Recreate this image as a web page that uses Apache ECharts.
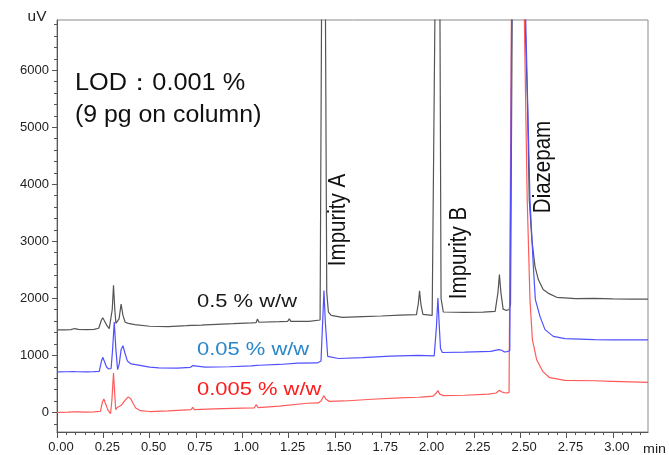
<!DOCTYPE html>
<html>
<head>
<meta charset="utf-8">
<script src="https://cdn.jsdelivr.net/npm/echarts@6/dist/echarts.min.js"></script>
<style>html,body{margin:0;padding:0;background:#fff}#c{width:669px;height:455px}</style>
</head>
<body>
<div id="c"></div>
<script>
// ---- tick labels ----
const xMajorTicks = [0, 0.25, 0.5, 0.75, 1.0, 1.25, 1.5, 1.75, 2.0, 2.25, 2.5, 2.75, 3.0];
const xMinorTicks = [0.05,0.1,0.15,0.2,0.3,0.35,0.4,0.45,0.55,0.6,0.65,0.7,0.8,0.85,0.9,0.95,1.05,1.1,1.15,1.2,1.3,1.35,1.4,1.45,1.55,1.6,1.65,1.7,1.8,1.85,1.9,1.95,2.05,2.1,2.15,2.2,2.3,2.35,2.4,2.45,2.55,2.6,2.65,2.7,2.8,2.85,2.9,2.95,3.05,3.1,3.15];
const yMajorTicks = [0, 1000, 2000, 3000, 4000, 5000, 6000];
const yMinorTicks = [-200,200,400,600,800,1200,1400,1600,1800,2200,2400,2600,2800,3200,3400,3600,3800,4200,4400,4600,4800,5200,5400,5600,5800,6200,6400,6600,6800];

// ---- series: [time (min), signal (uV)] ----
const trace05 = [
[0.000,1446],[0.040,1448],[0.075,1452],[0.095,1470],[0.115,1455],[0.160,1450],[0.200,1455],[0.225,1475],
[0.240,1620],[0.247,1660],[0.255,1610],[0.268,1530],[0.282,1470],[0.290,1500],[0.298,1800],[0.305,2230],
[0.312,1800],[0.318,1560],[0.325,1540],[0.335,1640],[0.346,1900],[0.356,1700],[0.368,1580],[0.385,1560],
[0.420,1540],[0.500,1510],[0.600,1505],[0.700,1520],[0.725,1525],[0.732,1556],[0.740,1525],[0.780,1530],
[0.790,1550],[0.800,1535],[0.950,1555],[1.050,1570],[1.075,1575],[1.082,1639],[1.090,1580],[1.200,1590],
[1.245,1595],[1.254,1639],[1.262,1595],[1.360,1597],[1.420,1620],[1.428,7000],[1.438,9000],[1.449,7000],
[1.456,2100],[1.465,1760],[1.480,1700],[1.540,1665],[1.650,1680],[1.750,1690],[1.850,1705],[1.940,1715],
[1.950,1900],[1.957,2130],[1.964,1900],[1.975,1720],[2.025,1700],[2.034,1720],[2.040,7000],[2.053,9000],
[2.067,7000],[2.073,2000],[2.085,1760],[2.200,1755],[2.300,1758],[2.365,1770],[2.380,2100],[2.388,2416],
[2.396,2100],[2.408,1810],[2.423,1790],[2.440,1800],[2.448,1900],[2.457,7000],[2.490,9000],[2.525,7000],
[2.539,5486],[2.549,3730],[2.563,3030],[2.580,2561],[2.598,2328],[2.624,2153],[2.656,2082],[2.697,2018],
[2.800,1995],[2.900,2000],[3.000,1990],[3.100,1985],[3.190,1985]
];
const trace005 = [
[0.000,709],[0.050,712],[0.090,715],[0.100,725],[0.110,712],[0.160,710],[0.200,715],[0.228,720],
[0.240,900],[0.247,965],[0.255,900],[0.268,790],[0.280,761],[0.286,790],[0.292,770],[0.300,1100],
[0.309,1586],[0.318,1100],[0.327,749],[0.336,850],[0.346,1100],[0.356,1170],[0.366,1050],[0.380,900],
[0.400,850],[0.440,830],[0.500,795],[0.550,780],[0.650,775],[0.720,790],[0.732,819],[0.742,792],
[0.800,795],[0.930,800],[1.050,815],[1.078,825],[1.085,845],[1.092,826],[1.200,840],[1.300,862],
[1.405,867],[1.425,900],[1.434,1600],[1.441,2135],[1.448,1600],[1.461,983],[1.470,954],[1.520,945],
[1.650,960],[1.800,985],[1.950,1000],[2.036,990],[2.048,1500],[2.056,2007],[2.062,1600],[2.070,1120],
[2.080,1050],[2.200,1055],[2.340,1070],[2.385,1100],[2.392,1112],[2.400,1090],[2.415,1060],[2.430,1065],
[2.444,1080],[2.454,7000],[2.490,9000],[2.529,7000],[2.553,3730],[2.571,2561],[2.582,1977],[2.607,1684],
[2.634,1451],[2.679,1333],[2.742,1293],[2.900,1275],[3.000,1272],[3.190,1270]
];
const trace0005 = [
[0.000,0],[0.060,5],[0.085,10],[0.095,30],[0.105,10],[0.160,5],[0.200,10],[0.235,20],
[0.245,180],[0.253,235],[0.262,150],[0.275,40],[0.289,-20],[0.296,200],[0.305,691],[0.312,300],
[0.317,47],[0.325,85],[0.345,120],[0.365,200],[0.384,272],[0.398,240],[0.410,160],[0.425,77],
[0.450,30],[0.500,15],[0.600,25],[0.700,45],[0.725,50],[0.732,88],[0.742,50],[0.850,60],
[1.000,75],[1.065,80],[1.075,135],[1.085,85],[1.200,110],[1.350,160],[1.410,165],[1.425,200],
[1.440,293],[1.452,230],[1.470,193],[1.550,200],[1.700,230],[1.850,255],[1.950,265],[1.957,285],
[1.965,268],[2.030,285],[2.045,330],[2.056,381],[2.066,320],[2.085,293],[2.200,300],[2.330,320],
[2.370,340],[2.386,386],[2.400,360],[2.420,340],[2.440,345],[2.449,360],[2.453,7000],[2.490,9000],
[2.522,7000],[2.538,3730],[2.553,1977],[2.566,1275],[2.589,924],[2.623,714],[2.660,608],[2.742,560],
[2.900,555],[3.000,545],[3.190,526]
];

const FONT = 'Liberation Sans, Arial, Helvetica, sans-serif';
const chart = echarts.init(document.getElementById('c'), null, {renderer: 'canvas'});

function txt(text, x, y, size, color, opts) {
  opts = opts || {};
  return Object.assign({
    type: 'text', x: x, y: y, z: 100, silent: true,
    style: {
      text: text, x: 0, y: 0, fill: color,
      font: size + 'px ' + FONT,
      textAlign: opts.align || 'left', align: opts.align || 'left',
      textVerticalAlign: 'middle', verticalAlign: 'middle'
    }
  }, opts.tr || {});
}

const option = {
  animation: false,
  backgroundColor: '#fff',
  grid: {left: 57, right: 21, top: 20, bottom: 23, show: true, borderColor: '#8a8a8a', borderWidth: 1, backgroundColor: 'transparent', containLabel: false},
  xAxis: [{
    type: 'value', min: 0, max: 3.19, position: 'bottom',
    axisLine: {show: true, onZero: false, lineStyle: {color: '#555', width: 1}},
    axisTick: {show: true, length: 6, lineStyle: {color: '#555'}, customValues: xMajorTicks},
    axisLabel: {show: true, customValues: xMajorTicks, margin: 9, color: '#222', fontSize: 13, fontFamily: FONT,
      padding: [0, 0, 0, 8], formatter: v => v.toFixed(2)},
    splitLine: {show: false}
  }, {
    type: 'value', min: 0, max: 3.19, position: 'bottom',
    axisLine: {show: false, onZero: false},
    axisTick: {show: true, length: 3, lineStyle: {color: '#555'}, customValues: xMinorTicks},
    axisLabel: {show: false},
    splitLine: {show: false}
  }],
  yAxis: [{
    type: 'value', min: -344, max: 6880, position: 'left',
    axisLine: {show: true, onZero: false, lineStyle: {color: '#555', width: 1}},
    axisTick: {show: true, length: 5, lineStyle: {color: '#555'}, customValues: yMajorTicks},
    axisLabel: {show: true, customValues: yMajorTicks, margin: 8, color: '#222', fontSize: 13, fontFamily: FONT,
      formatter: v => String(Math.round(v))},
    splitLine: {show: false}
  }, {
    type: 'value', min: -344, max: 6880, position: 'left',
    axisLine: {show: false, onZero: false},
    axisTick: {show: true, length: 3, lineStyle: {color: '#555'}, customValues: yMinorTicks},
    axisLabel: {show: false},
    splitLine: {show: false}
  }],
  series: [
    {name: '0.5 % w/w', type: 'line', data: trace05, showSymbol: false, symbol: 'none', clip: true,
      lineStyle: {color: '#555555', width: 1.2}, z: 2},
    {name: '0.005 % w/w', type: 'line', data: trace0005, showSymbol: false, symbol: 'none', clip: true,
      lineStyle: {color: '#ff5a5a', width: 1.2}, z: 3},
    {name: '0.05 % w/w', type: 'line', data: trace005, showSymbol: false, symbol: 'none', clip: true,
      lineStyle: {color: '#5050ff', width: 1.2}, z: 4}
  ],
  graphic: {elements: [
    txt('uV', 37, 17, 14, '#222', {align: 'center', tr: {scaleX: 1.1}}),
    txt('min', 643, 449, 13, '#222', {tr: {scaleX: 1.1}}),
    txt('LOD：0.001 %', 75, 83.5, 23, '#111', {tr: {scaleX: 1.1}}),
    txt('(9 pg on column)', 75, 116, 23, '#111', {tr: {scaleX: 1.08}}),
    txt('0.5 % w/w', 197, 301.5, 18.6, '#1a1a1a', {tr: {scaleX: 1.18}}),
    txt('0.05 % w/w', 197, 349.5, 18.6, '#2a86c8', {tr: {scaleX: 1.18}}),
    txt('0.005 % w/w', 197, 390, 18.6, '#ff1a1a', {tr: {scaleX: 1.18}}),
    txt('Impurity A', 338, 220, 20.5, '#111', {align: 'center', tr: {rotation: Math.PI / 2, scaleY: 1.15}}),
    txt('Impurity B', 459, 253, 20.5, '#111', {align: 'center', tr: {rotation: Math.PI / 2, scaleY: 1.15}}),
    txt('Diazepam', 543, 167, 20.5, '#111', {align: 'center', tr: {rotation: Math.PI / 2, scaleY: 1.15}})
  ]}
};
chart.setOption(option);
</script>
</body>
</html>
